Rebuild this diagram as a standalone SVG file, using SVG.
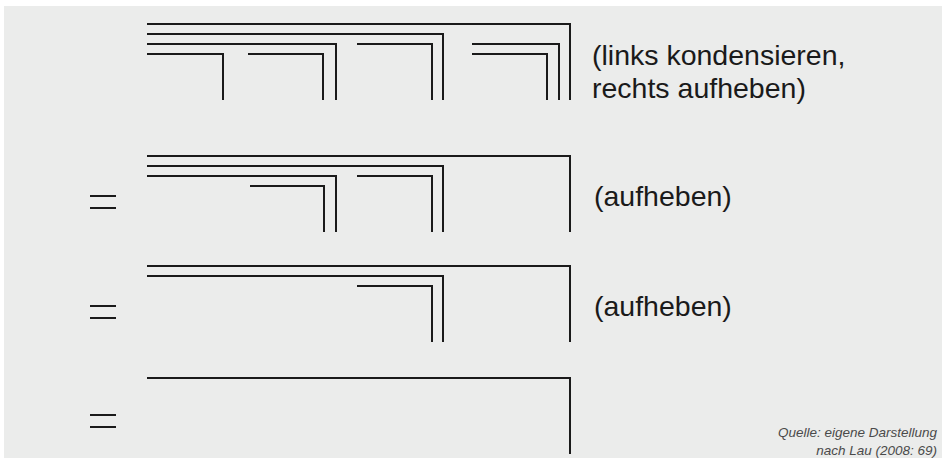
<svg xmlns="http://www.w3.org/2000/svg" width="948" height="461" viewBox="0 0 948 461">
  <style>
    .ln { fill: none; stroke: #1a1a1a; stroke-width: 2; stroke-linejoin: miter; stroke-linecap: butt; }
    .lbl { font-family: "Liberation Sans", "Open Sans", sans-serif; font-size: 28.5px; fill: #1a1a1a; }
    .src { font-family: "Liberation Sans", "Open Sans", sans-serif; font-size: 13.5px; font-style: italic; fill: #4a4a4a; text-anchor: end; }
  </style>
  <rect x="0" y="0" width="948" height="461" fill="#ffffff"/>
  <rect x="4" y="6" width="938" height="452" fill="#ebeceb"/>

  <g id="row1">
    <path class="ln" d="M147,24 H570 V100"/>
    <path class="ln" d="M147,34 H443 V100"/>
    <path class="ln" d="M147,44 H336 V100"/>
    <path class="ln" d="M147,54 H223 V100"/>
    <path class="ln" d="M248,54 H323 V100"/>
    <path class="ln" d="M357,44 H432 V100"/>
    <path class="ln" d="M472,44 H559 V100"/>
    <path class="ln" d="M472,54 H547 V100"/>
    <text class="lbl" x="592" y="64.5">(links kondensieren,</text>
    <text class="lbl" x="592" y="97.5">rechts aufheben)</text>
  </g>

  <g id="row2">
    <path class="ln" d="M90,196 H116 M90,208 H116"/>
    <path class="ln" d="M147,156 H570 V232"/>
    <path class="ln" d="M147,166 H443 V232"/>
    <path class="ln" d="M147,176 H336 V232"/>
    <path class="ln" d="M250,186 H324 V232"/>
    <path class="ln" d="M357,176 H432 V232"/>
    <text class="lbl" x="594" y="206">(aufheben)</text>
  </g>

  <g id="row3">
    <path class="ln" d="M90,306 H116 M90,318 H116"/>
    <path class="ln" d="M147,266 H570 V342"/>
    <path class="ln" d="M147,276 H443 V342"/>
    <path class="ln" d="M357,286 H432 V342"/>
    <text class="lbl" x="594" y="316">(aufheben)</text>
  </g>

  <g id="row4">
    <path class="ln" d="M90,415 H116 M90,427 H116"/>
    <path class="ln" d="M147,378 H570 V454"/>
  </g>

  <g id="source">
    <text class="src" x="937" y="437">Quelle: eigene Darstellung</text>
    <text class="src" x="937" y="455">nach Lau (2008: 69)</text>
  </g>
</svg>
